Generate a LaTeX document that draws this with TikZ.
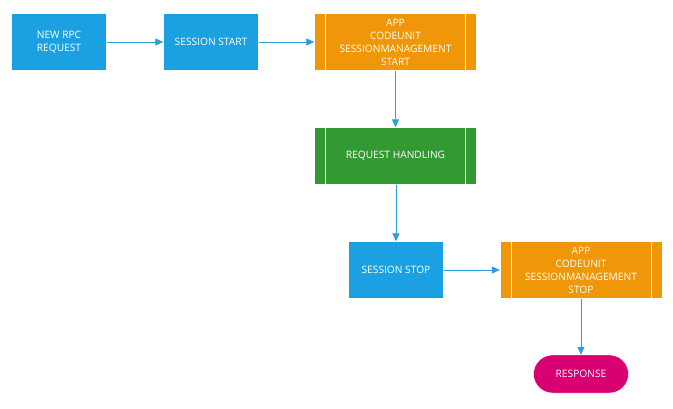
\documentclass[tikz,border=0pt]{standalone}
\usepackage{fontspec}
\setmainfont{Open Sans}
\usetikzlibrary{arrows.meta,shapes.misc}
\definecolor{stepblue}{HTML}{1BA1E2}
\definecolor{steporange}{HTML}{F09609}
\definecolor{stepgreen}{HTML}{339933}
\definecolor{stepmagenta}{HTML}{D80073}
\definecolor{flowline}{HTML}{2B9DDC}
\begin{document}
\begin{tikzpicture}[x=1pt, y=-1pt, ->, >={Triangle[length=8pt,width=7pt]},
      every node/.append style={font=\fontsize{10.2}{13}\selectfont,text=white,align=center,inner sep=0pt},
      every path/.append style={draw=flowline,line width=0.8pt}]
    \tikzstyle{task} = [rectangle,fill=stepblue,draw=white,line width=0.4pt,minimum width=95pt,minimum height=57pt]
    \tikzstyle{sub} = [rectangle,draw=white,line width=0.4pt,minimum width=162pt,minimum height=57pt,
      path picture={\draw[white,line width=0.6pt,-]
        ([xshift=11pt]path picture bounding box.north west) -- ([xshift=11pt]path picture bounding box.south west)
        ([xshift=-11pt]path picture bounding box.north east) -- ([xshift=-11pt]path picture bounding box.south east);}]
    \tikzstyle{term} = [rounded rectangle,fill=stepmagenta,draw=white,line width=0.4pt,minimum width=95pt,minimum height=38pt]
    \useasboundingbox[draw=none] (0,0) rectangle (673,409);
    \node (request) [task] at (59,42) {NEW RPC\\REQUEST};
    \node (start) [task] at (211,42) {SESSION START};
    \node (appstart) [sub,fill=steporange] at (395.5,42) {APP\\CODEUNIT\\SESSIONMANAGEMENT\\START};
    \node (handling) [sub,fill=stepgreen] at (395.5,156) {REQUEST HANDLING};
    \node (stop) [task] at (396,270) {SESSION STOP};
    \node (appstop) [sub,fill=steporange] at (581,270) {APP\\CODEUNIT\\SESSIONMANAGEMENT\\STOP};
    \node (response) [term] at (581,374) {RESPONSE};
    \draw (request) -- (start);
    \draw (start) -- (appstart);
    \draw (appstart) -- (handling);
    \draw (handling.south -| stop.north) -- (stop);
    \draw (stop) -- (appstop);
    \draw (appstop) -- (response);
\end{tikzpicture}
\end{document}
